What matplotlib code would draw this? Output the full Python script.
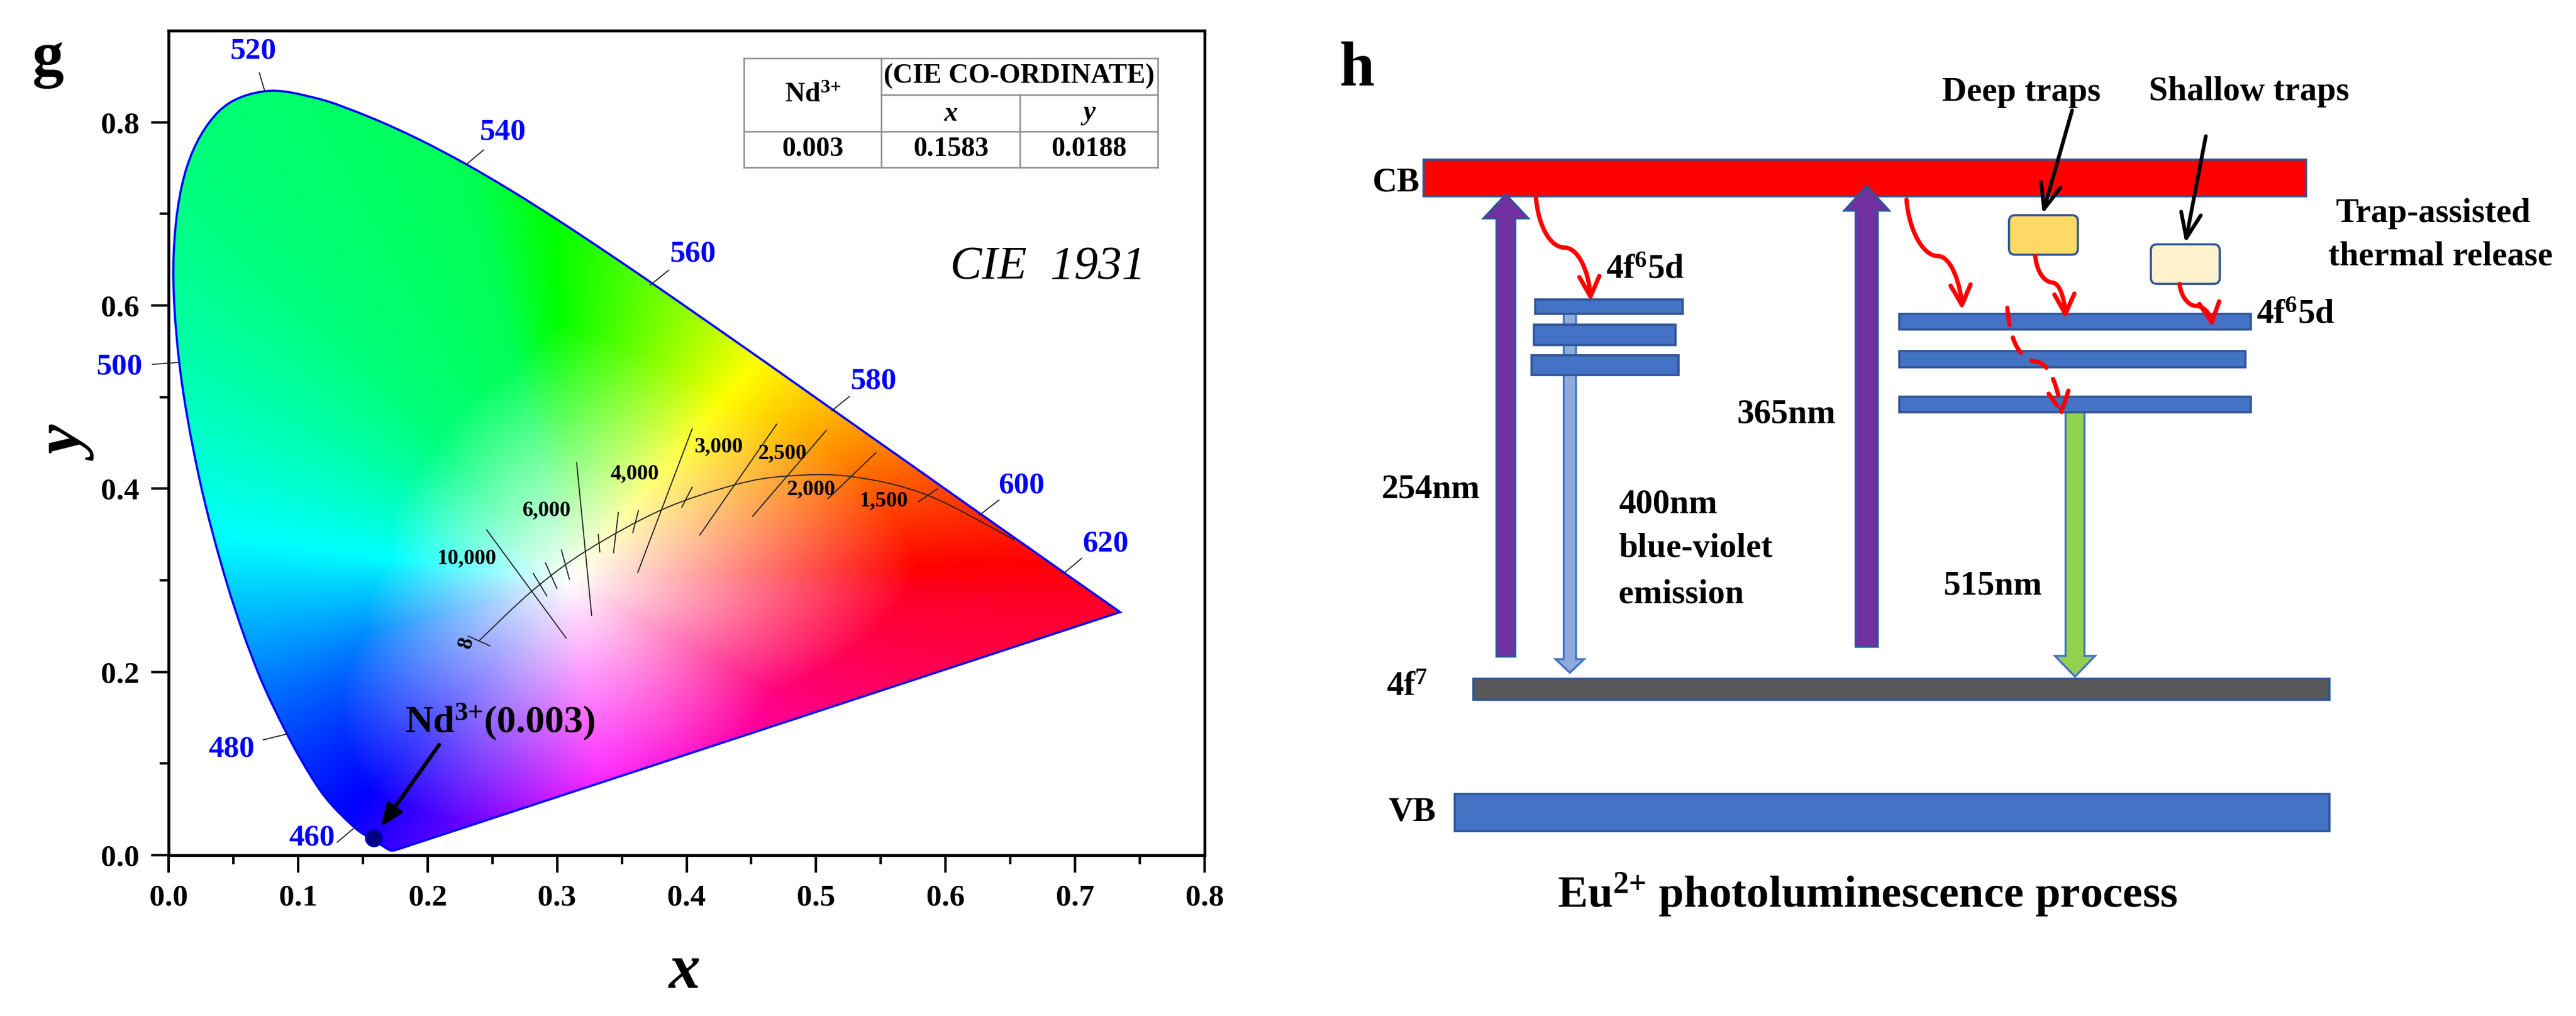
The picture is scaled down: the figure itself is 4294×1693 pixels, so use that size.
import numpy as np
import matplotlib
matplotlib.use("Agg")
import matplotlib.pyplot as plt
from matplotlib.colors import hsv_to_rgb
from matplotlib.patches import Polygon, Rectangle, FancyBboxPatch, FancyArrowPatch, PathPatch
from matplotlib.path import Path

plt.rcParams['font.family'] = ['Liberation Serif', 'DejaVu Serif']
plt.rcParams['font.weight'] = 'bold'
plt.rcParams['mathtext.fontset'] = 'custom'
plt.rcParams['mathtext.rm'] = 'Liberation Serif:bold'
plt.rcParams['mathtext.bf'] = 'Liberation Serif:bold'
plt.rcParams['mathtext.it'] = 'Liberation Serif:italic:bold'
plt.rcParams['mathtext.default'] = 'bf'

# ====== DATA ======
# spectral locus (5 nm steps mostly)
locus_x = [.1741, .1714, .1689, .1644, .1566, .1440, .1241, .1096, .0913, .0687, .0454, .0235, .0082,
           .0039, .0139, .0389, .0743, .1142, .1547, .1929, .2296, .2658, .3016, .3373, .3731, .4087,
           .4441, .4788, .5125, .5448, .5752, .6029, .6270, .6482, .6658, .6915, .7079, .7190, .7260, .7347]
locus_y = [.0050, .0051, .0069, .0109, .0177, .0297, .0578, .0868, .1327, .2007, .2950, .4127, .5384,
           .6548, .7502, .8120, .8338, .8262, .8059, .7816, .7543, .7243, .6923, .6589, .6245, .5896,
           .5547, .5202, .4866, .4544, .4242, .3965, .3725, .3514, .3340, .3083, .2920, .2809, .2740, .2653]

# colour field keys around the white point
white_xy = (0.31, 0.30)
key_angle = [3, 59, 92, 100, 125, 170, 200, 236, 250, 276, 322, 356, 363]
key_hue = [0, 60, 120, 140, 150, 180, 207, 240, 260, 300, 330, 350, 360]
key_reach = [0.27, 0.23, 0.28, 0.24, 0.18, 0.14, 0.17, 0.28, 0.28, 0.26, 0.20, 0.26, 0.27]

# wavelength labels
wave_labels = ["520", "540", "560", "580", "600", "620", "500", "480", "460"]
wave_text_x = [.0653, .2581, .4050, .5445, .6588, .7233, -.0378, .0484, .1104]
wave_text_y = [.8771, .7888, .6558, .5172, .4033, .3395, .5326, .1154, .0187]
wave_lead_x0 = [.0701, .2432, .3862, .5258, .6412, .7051, -.0124, .0732, .1302]
wave_lead_y0 = [.8538, .7697, .6385, .5007, .3876, .3240, .5357, .1259, .0141]
wave_lead_x1 = [.0744, .2295, .3719, .5122, .6263, .6912, .0074, .0912, .1439]
wave_lead_y1 = [.8333, .7534, .6222, .4852, .3713, .3077, .5378, .1322, .0304]

# Planckian locus
planck_x = [.6527, .5857, .5267, .4770, .4369, .3805, .3221, .2807, .2399]
planck_y = [.3444, .3931, .4133, .4137, .4041, .3768, .3318, .2884, .2342]
iso_x0 = [.2456, .2816, .2910, .3033, .3151, .3318, .3473, .3628, .4043, .4043, .4695, .5081, .5461, .5937, .2314]
iso_y0 = [.3550, .3076, .3189, .3331, .4285, .3501, .3741, .3762, .4653, .4017, .4703, .4640, .4392, .3998, .2391]
iso_x1 = [.3070, .2921, .2998, .3095, .3267, .3330, .3436, .3585, .3622, .3963, .4102, .4510, .5091, .5789, .2481]
iso_y1 = [.2370, .2829, .2913, .3013, .2616, .3310, .3303, .3522, .3083, .3798, .3494, .3699, .3890, .3857, .2285]
temp_labels = ["10,000", "6,000", "4,000", "3,000", "2,500", "2,000", "1,500"]
temp_text_x = [.2300, .2920, .3600, .4250, .4740, .4960, .5520]
temp_text_y = [.3235, .3765, .4165, .4455, .4385, .3990, .3870]

point_x = [0.1583]
point_y = [0.0188]

table_head = ["(CIE CO-ORDINATE)", r"$\mathit{x}$", r"$\mathit{y}$"]
table_row = ["0.003", "0.1583", "0.0188"]

# panel h, pixel positions of the level bars: x0, x1, y0, y1
left_levels = [(2559, 2805, 499, 523), (2557, 2793, 541, 575), (2553, 2798, 592, 625)]
right_levels = [(3166, 3752, 523, 549), (3166, 3743, 585, 612), (3166, 3752, 661, 687)]
# ==================

fig = plt.figure(figsize=(42.94, 16.93), dpi=100, facecolor='white')
W, H = 4294.0, 1693.0


def smooth_path(xs, ys):
    # Catmull-Rom through the read points, written as Bezier segments
    p = np.column_stack([xs, ys])
    q = np.vstack([p[0], p, p[-1]])
    verts = [p[0]]
    codes = [Path.MOVETO]
    for i in range(1, len(q) - 2):
        verts += [q[i] + (q[i + 1] - q[i - 1]) / 6, q[i + 1] - (q[i + 2] - q[i]) / 6, q[i + 1]]
        codes += [Path.CURVE4] * 3
    return verts, codes


# ---- panel g ----
ax = fig.add_axes([281 / W, 1 - 1425 / H, (2008 - 281) / W, (1425 - 51) / H])
ax.set_xlim(0, 0.8)
ax.set_ylim(0, 0.9)

# colour field: hue by angle round the white point, saturation by distance
gx, gy = np.meshgrid(np.linspace(0.0, 0.8, 800), np.linspace(0.0, 0.9, 900))
dx = gx - white_xy[0]
dy = gy - white_xy[1]
ang = np.degrees(np.arctan2(dy, dx))
ang = np.where(ang < key_angle[0], ang + 360, ang)
hue = np.interp(ang, key_angle, key_hue) / 360.0
reach = np.interp(ang, key_angle, key_reach)
sat = np.clip(np.hypot(dx, dy) / reach, 0, 1)
rgb = hsv_to_rgb(np.dstack([hue % 1.0, sat, np.ones_like(sat)]))
img = ax.imshow(rgb, origin='lower', extent=[0, 0.8, 0, 0.9], aspect='auto', interpolation='bilinear')

verts, codes = smooth_path(locus_x, locus_y)
verts.append(verts[0])
codes.append(Path.LINETO)
gamut = PathPatch(Path(verts, codes), fc='none', ec='#0000ff', lw=2.6, zorder=3)
ax.add_patch(gamut)
img.set_clip_path(gamut)

verts, codes = smooth_path(planck_x, planck_y)
ax.add_patch(PathPatch(Path(verts, codes), fc='none', ec='#222222', lw=1.3, zorder=4))
for i in range(len(iso_x0)):
    ax.plot([iso_x0[i], iso_x1[i]], [iso_y0[i], iso_y1[i]], color='#222222', lw=1.3, zorder=4)
for s, tx, ty in zip(temp_labels, temp_text_x, temp_text_y):
    ax.text(tx, ty, s, fontsize=26, ha='center', va='center', zorder=5)
ax.text(.2300, .2320, "8", fontsize=26, rotation=75, ha='center', va='center', zorder=5)

for i, s in enumerate(wave_labels):
    ax.plot([wave_lead_x0[i], wave_lead_x1[i]], [wave_lead_y0[i], wave_lead_y1[i]], color='#222222', lw=1.3,
            clip_on=False, zorder=4)
    ax.text(wave_text_x[i], wave_text_y[i], s, color='#0000ff', fontsize=37, ha='center', va='center', clip_on=False)

ax.plot(point_x, point_y, 'o', ms=20, mfc='#000080', mec='#0000cc', mew=2, zorder=6)
ax.annotate("", xy=(.1640, .0310), xytext=(.2090, .1205),
            arrowprops=dict(arrowstyle='-|>,head_width=0.9,head_length=2.2', lw=4.5, color='black', shrinkA=0, shrinkB=0),
            zorder=7)
ax.text(.2557, .1460, r"Nd$^{3{+}}$(0.003)", fontsize=46, ha='center', va='center', zorder=7)
ax.text(.6790, .6420, "CIE  1931", fontsize=57, style='italic', weight='normal', ha='center', va='center')

ax.set_xticks(np.arange(0, 0.81, 0.1))
ax.set_yticks(np.arange(0, 0.81, 0.2))
ax.set_xticks(np.arange(0.05, 0.8, 0.1), minor=True)
ax.set_yticks(np.arange(0.1, 0.9, 0.2), minor=True)
ax.xaxis.set_major_formatter(matplotlib.ticker.FormatStrFormatter('%.1f'))
ax.yaxis.set_major_formatter(matplotlib.ticker.FormatStrFormatter('%.1f'))
ax.tick_params(which='major', length=21, width=3, labelsize=37, pad=14)
ax.tick_params(which='minor', length=11, width=3)
for sp in ax.spines.values():
    sp.set_linewidth(3.4)

# ---- overlay in image pixels ----
ov = fig.add_axes([0, 0, 1, 1], facecolor='none')
ov.set_xlim(0, W)
ov.set_ylim(H, 0)
ov.axis('off')

ov.text(80, 100, "g", fontsize=76, ha='center', va='center')
ov.text(1141, 1620, "x", fontsize=76, style='italic', ha='center', va='center')
ov.text(118, 743, "y", fontsize=80, style='italic', rotation=90, ha='center', va='center')

# table
for xl, y0, y1 in [(1240, 97, 279), (1469, 97, 279), (1700, 158, 279), (1930, 97, 279)]:
    ov.plot([xl, xl], [y0, y1], color='#8c8c8c', lw=1.8)
for yl, x0, x1 in [(97, 1240, 1930), (158, 1469, 1930), (219, 1240, 1930), (279, 1240, 1930)]:
    ov.plot([x0, x1], [yl, yl], color='#8c8c8c', lw=1.8)
ov.text(1355, 159, r"Nd$^{3{+}}$", fontsize=33, ha='center', va='center')
ov.text(1699, 127, table_head[0], fontsize=33, ha='center', va='center')
ov.text(1585, 190, table_head[1], fontsize=33, ha='center', va='center')
ov.text(1815, 190, table_head[2], fontsize=33, ha='center', va='center')
ov.text(1355, 249, table_row[0], fontsize=33, ha='center', va='center')
ov.text(1585, 249, table_row[1], fontsize=33, ha='center', va='center')
ov.text(1815, 249, table_row[2], fontsize=33, ha='center', va='center')

# ---- panel h ----
EDGE = '#2f5597'


def zx(v):
    return 2150 + v * 1.367


def zy(v):
    return v * 1.08


def up_arrow(x0, x1, hx0, hx1, top, base, bottom, fc, ec, down=False):
    # block arrow as a plain polygon
    if down:
        pts = [(x0, top), (x1, top), (x1, base), (hx1, base), ((hx0 + hx1) / 2, bottom), (hx0, base), (x0, base)]
    else:
        pts = [(x0, bottom), (x1, bottom), (x1, base), (hx1, base), ((hx0 + hx1) / 2, top), (hx0, base), (x0, base)]
    ov.add_patch(Polygon(pts, closed=True, fc=fc, ec=ec, lw=2.4, zorder=3))


def bar(x0, x1, y0, y1, fc, zorder=4):
    ov.add_patch(Rectangle((x0, y0), x1 - x0, y1 - y0, fc=fc, ec=EDGE, lw=2.6, zorder=zorder))


def curve(points, dashed=False):
    # red arrow along Bezier control points
    verts = [points[0]]
    codes = [Path.MOVETO]
    for p in points[1:]:
        verts.append(p)
        codes.append(Path.CURVE4)
    ls = (0, (4.0, 3.0)) if dashed else '-'
    ov.add_patch(FancyArrowPatch(path=Path(verts, codes), arrowstyle='->,head_width=12,head_length=24', lw=5.2,
                                 linestyle=ls, color='#ff0000', zorder=6, mutation_scale=1, shrinkA=0, shrinkB=0))


bar(zx(163), zx(1239), zy(246), zy(303), '#ff0000', zorder=2)
bar(zx(224), zx(1268), zy(1047), zy(1080), '#595959')
bar(zx(201), zx(1268), zy(1225), zy(1282), '#4472c4')

up_arrow(zx(252), zx(275), zx(236), zx(291), zy(300), zy(337), zy(1013), '#7030a0', EDGE)
up_arrow(zx(690), zx(717), zx(676), zx(731), zy(287), zy(325), zy(998), '#7030a0', EDGE)
up_arrow(zx(334), zx(349), zx(324), zx(359), zy(484), zy(1017), zy(1038), '#8faadc', '#4472c4', down=True)
up_arrow(zx(946), zx(969), zx(933), zx(982), zy(636), zy(1012), zy(1044), '#92d050', '#4472c4', down=True)

for lv in left_levels + right_levels:
    bar(lv[0], lv[1], lv[2], lv[3], '#4472c4')

for bx, by, fc in [(877, 332, '#ffd966'), (1050, 377, '#fff2cc')]:
    ov.add_patch(FancyBboxPatch((zx(bx) + 8, zy(by) + 8), 84 * 1.367 - 16, 61 * 1.08 - 16,
                                boxstyle='round,pad=8,rounding_size=10', fc=fc, ec=EDGE, lw=2.6, zorder=4))

for x0, y0, x1, y1 in [(954, 170, 918, 330), (1117, 210, 1092, 375)]:
    ov.annotate("", xy=(zx(x1), zy(y1)), xytext=(zx(x0), zy(y0)),
                arrowprops=dict(arrowstyle='->,head_width=0.4,head_length=1.0', lw=4.5, color='black',
                                shrinkA=0, shrinkB=0, mutation_scale=30), zorder=7)

curve([(zx(300), zy(303)), (zx(303), zy(350)), (zx(318), zy(382)), (zx(335), zy(382)),
       (zx(352), zy(382)), (zx(365), zy(420)), (zx(367), zy(465))])
curve([(zx(752), zy(308)), (zx(755), zy(355)), (zx(772), zy(395)), (zx(790), zy(395)),
       (zx(807), zy(395)), (zx(818), zy(440)), (zx(820), zy(478))])
curve([(zx(909), zy(395)), (zx(911), zy(420)), (zx(920), zy(435)), (zx(930), zy(436)),
       (zx(940), zy(437)), (zx(945), zy(465)), (zx(946), zy(492))])
curve([(zx(1085), zy(438)), (zx(1087), zy(460)), (zx(1097), zy(472)), (zx(1105), zy(472)),
       (zx(1115), zy(472)), (zx(1123), zy(485)), (zx(1125), zy(505))])
curve([(zx(875), zy(475)), (zx(878), zy(525)), (zx(890), zy(555)), (zx(910), zy(558)),
       (zx(930), zy(561)), (zx(938), zy(610)), (zx(942), zy(643))], dashed=True)

labels_h = [("CB", 129, 282, 41), ("4f$^{6}$5d", 433, 416, 41), ("254nm", 172, 755, 41), ("365nm", 606, 639, 41),
            ("515nm", 857, 904, 41), ("Deep traps", 892, 143, 41), ("Shallow traps", 1170, 142, 41),
            ("Trap-assisted", 1394, 330, 41), ("thermal release", 1403, 396, 41), ("4f$^{6}$5d", 1226, 486, 41),
            ("4f$^{7}$", 143, 1060, 41), ("VB", 149, 1253, 41),
            ("Eu$^{2{+}}$ photoluminescence process", 704, 1380, 54), ("h", 82, 108, 76)]
for s, tx, ty, fs in labels_h:
    ov.text(zx(tx), zy(ty), s, fontsize=fs, ha='center', va='center', zorder=8)
for s, ty in [("400nm", 778), ("blue-violet", 846), ("emission", 917)]:
    ov.text(zx(401), zy(ty), s, fontsize=41, ha='left', va='center', zorder=8)

fig.savefig("out.png", dpi=100)
